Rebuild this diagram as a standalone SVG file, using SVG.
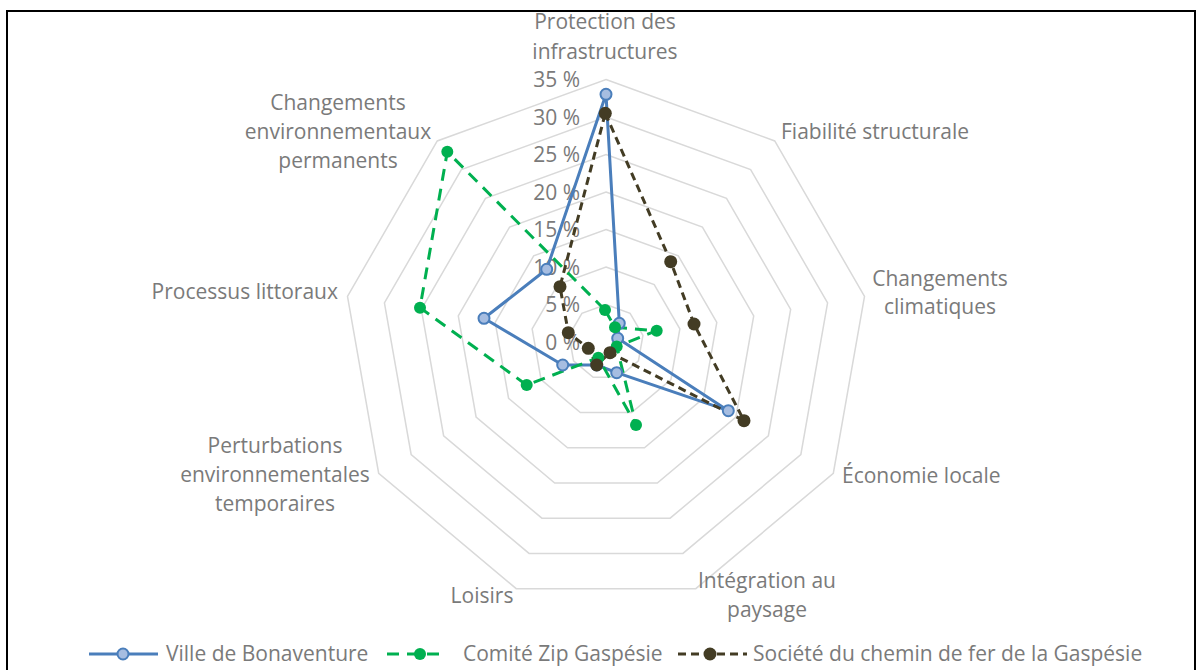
<svg xmlns="http://www.w3.org/2000/svg" xmlns:xlink="http://www.w3.org/1999/xlink" width="1197" height="670" viewBox="0 0 1197 670">
<style>
text{font-family:"Open Sans",Lato,"Liberation Sans",sans-serif;font-size:21px;fill:#7a7a7a}
.ring{fill:none;stroke:#d9d9d9;stroke-width:1.5}
.mid{text-anchor:middle}
.end{text-anchor:end}
.s1{fill:none;stroke:#4a7ebb;stroke-width:3;stroke-linejoin:round}
.s2{fill:none;stroke:#00b050;stroke-width:3;stroke-dasharray:12 8}
.s3{fill:none;stroke:#433c24;stroke-width:3;stroke-dasharray:8 5}
.m1{fill:#a6bde1;stroke:#4a7ebb;stroke-width:2}
.m2{fill:#00b050}
.m3{fill:#433c24}
</style>
<defs>
<polygon id="ring" vector-effect="non-scaling-stroke" class="ring" points="0,-100 64.28,-76.6 98.48,-17.36 86.6,50 34.2,93.97 -34.2,93.97 -86.6,50 -98.48,-17.36 -64.28,-76.6"/>
</defs>
<rect x="7" y="11" width="1188" height="680" fill="none" stroke="#000" stroke-width="2"/>
<g id="grid">
<use xlink:href="#ring" transform="translate(606,342) scale(0.375)"/>
<use xlink:href="#ring" transform="translate(606,342) scale(0.75)"/>
<use xlink:href="#ring" transform="translate(606,342) scale(1.125)"/>
<use xlink:href="#ring" transform="translate(606,342) scale(1.5)"/>
<use xlink:href="#ring" transform="translate(606,342) scale(1.875)"/>
<use xlink:href="#ring" transform="translate(606,342) scale(2.25)"/>
<use xlink:href="#ring" transform="translate(606,342) scale(2.625)"/>
</g>
<g id="scale">
<text class="end" x="580" y="87">35 %</text>
<text class="end" x="580" y="124.5">30 %</text>
<text class="end" x="580" y="162">25 %</text>
<text class="end" x="580" y="199.5">20 %</text>
<text class="end" x="580" y="237">15 %</text>
<text class="end" x="580" y="274.5">10 %</text>
<text class="end" x="580" y="312">5 %</text>
<text class="end" x="580" y="349.5">0 %</text>
</g>
<g id="categories">
<g id="cat-protection"><text class="mid" x="605" y="29">Protection des</text><text class="mid" x="605" y="59">infrastructures</text></g>
<g id="cat-fiabilite"><text x="781" y="139">Fiabilité structurale</text></g>
<g id="cat-climat"><text class="mid" x="940" y="286">Changements</text><text class="mid" x="940" y="314">climatiques</text></g>
<g id="cat-economie"><text x="842" y="483">Économie locale</text></g>
<g id="cat-integration"><text class="mid" x="767" y="588">Intégration au</text><text class="mid" x="767" y="617">paysage</text></g>
<g id="cat-loisirs"><text class="mid" x="482" y="603">Loisirs</text></g>
<g id="cat-perturbations"><text class="mid" x="275" y="453">Perturbations</text><text class="mid" x="275" y="482">environnementales</text><text class="mid" x="275" y="511">temporaires</text></g>
<g id="cat-processus"><text class="end" x="338" y="299">Processus littoraux</text></g>
<g id="cat-permanents"><text class="mid" x="338" y="110">Changements</text><text class="mid" x="338" y="139">environnementaux</text><text class="mid" x="338" y="168">permanents</text></g>
</g>
<g id="connectors">
<polygon id="series-ville" class="s1" points="606,94.3 619.3,323.3 617.7,338.3 728.3,410.7 616.7,372.7 596.7,365 562.7,365 484,318.3 546.7,269.3"/>
<polygon id="series-zip" class="s2" points="605,310 615,327.3 656.7,330.7 616.7,346.5 636,425 598.3,357.7 526.7,385 420,307.7 447.3,151.7"/>
<polygon id="series-societe" class="s3" points="605.3,113.3 670.7,261.7 694,324 744,420.7 610,352.7 596.7,365 588.3,348.3 568.3,332.7 560,286.7"/>
</g>
<g id="markers-ville">
<circle class="m1" cx="606" cy="94.3" r="5.5"/><circle class="m1" cx="619.3" cy="323.3" r="5.5"/><circle class="m1" cx="617.7" cy="338.3" r="5.5"/><circle class="m1" cx="728.3" cy="410.7" r="5.5"/><circle class="m1" cx="616.7" cy="372.7" r="5.5"/><circle class="m1" cx="596.7" cy="365" r="5.5"/><circle class="m1" cx="562.7" cy="365" r="5.5"/><circle class="m1" cx="484" cy="318.3" r="5.5"/><circle class="m1" cx="546.7" cy="269.3" r="5.5"/>
</g>
<g id="markers-zip">
<circle class="m2" cx="605" cy="310" r="6"/><circle class="m2" cx="615" cy="327.3" r="6"/><circle class="m2" cx="656.7" cy="330.7" r="6"/><circle class="m2" cx="616.7" cy="346.5" r="6"/><circle class="m2" cx="636" cy="425" r="6"/><circle class="m2" cx="598.3" cy="357.7" r="6"/><circle class="m2" cx="526.7" cy="385" r="6"/><circle class="m2" cx="420" cy="307.7" r="6"/><circle class="m2" cx="447.3" cy="151.7" r="6"/>
</g>
<g id="markers-societe">
<circle class="m3" cx="605.3" cy="113.3" r="6.5"/><circle class="m3" cx="670.7" cy="261.7" r="6.5"/><circle class="m3" cx="694" cy="324" r="6.5"/><circle class="m3" cx="744" cy="420.7" r="6.5"/><circle class="m3" cx="610" cy="352.7" r="6.5"/><circle class="m3" cx="596.7" cy="365" r="6.5"/><circle class="m3" cx="588.3" cy="348.3" r="6.5"/><circle class="m3" cx="568.3" cy="332.7" r="6.5"/><circle class="m3" cx="560" cy="286.7" r="6.5"/>
</g>
<g id="legend">
<line class="s1" x1="89" y1="654" x2="158" y2="654"/><circle class="m1" cx="123" cy="654" r="5.5"/>
<text x="166" y="661">Ville de Bonaventure</text>
<line class="s2" x1="387" y1="654" x2="445" y2="654" stroke-dasharray="11 12 17 6 12"/><circle class="m2" cx="420" cy="654" r="6"/>
<text x="463" y="661">Comité Zip Gaspésie</text>
<line class="s3" x1="678" y1="654" x2="747" y2="654"/><circle class="m3" cx="710" cy="654" r="6.5"/>
<text x="753" y="661">Société du chemin de fer de la Gaspésie</text>
</g>
</svg>
